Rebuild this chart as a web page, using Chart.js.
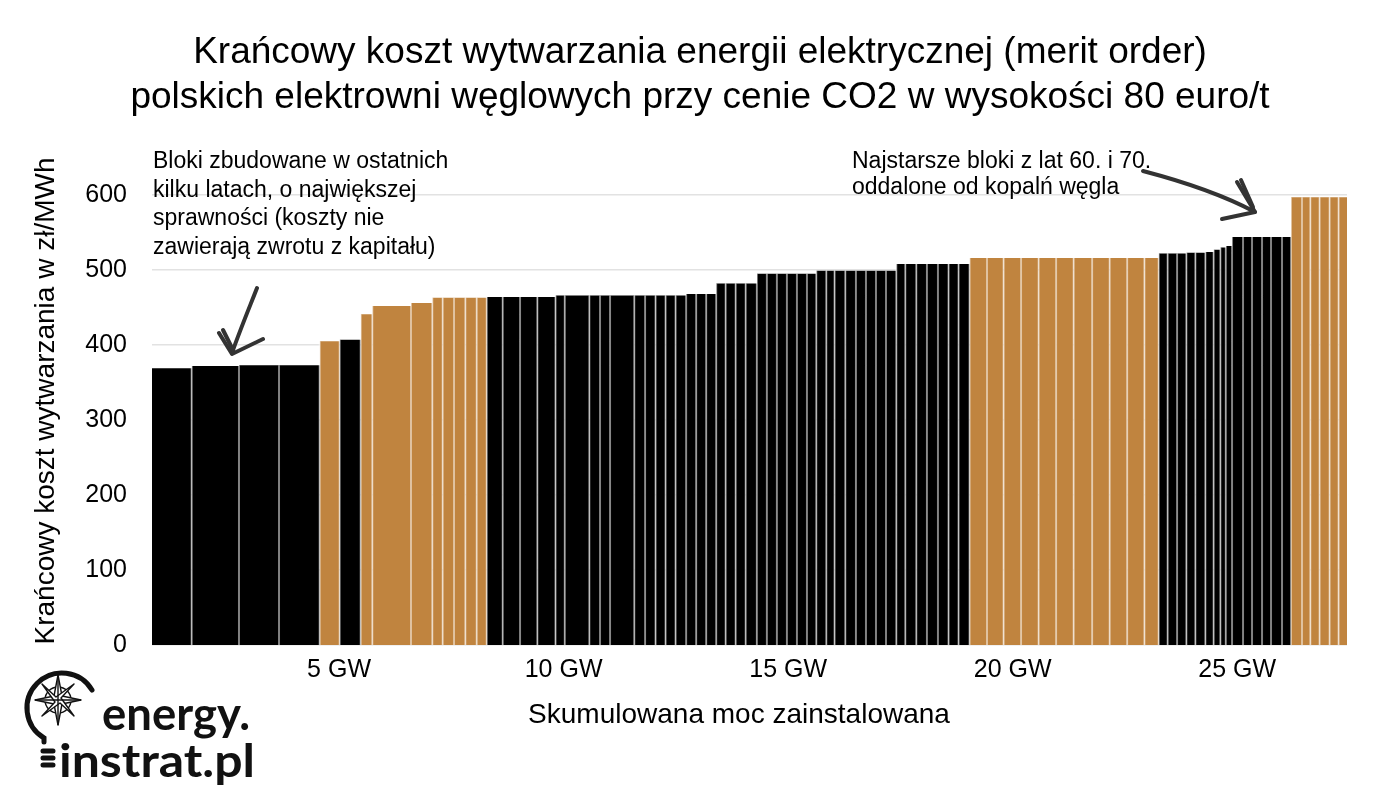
<!DOCTYPE html>
<html><head><meta charset="utf-8">
<script src="https://cdn.jsdelivr.net/npm/chart.js@4.4.1/dist/chart.umd.min.js"></script>
<style>
html,body{margin:0;padding:0;background:#fff;}
#wrap{position:relative;width:1400px;height:803px;overflow:hidden;font-family:"Liberation Sans",Arial,sans-serif;color:#000;}
#c{position:absolute;left:0;top:0;}
.note{position:absolute;font-size:23px;white-space:nowrap;}
.axt{position:absolute;font-size:28px;white-space:nowrap;transform:translate(-50%,-50%);}
svg.ov{position:absolute;left:0;top:0;pointer-events:none;}
</style></head><body>
<div id="wrap">
<canvas id="c" width="1400" height="803"></canvas>
<div class="note" style="left:153px;top:146px;line-height:28.5px">Bloki zbudowane w ostatnich<br>kilku latach, o największej<br>sprawności (koszty nie<br>zawierają zwrotu z kapitału)</div>
<div class="note" style="left:852px;top:147px;line-height:26px">Najstarsze bloki z lat 60. i 70.<br>oddalone od kopalń węgla</div>
<div class="axt" style="left:739px;top:714px">Skumulowana moc zainstalowana</div>
<div class="axt" style="left:45px;top:401px;transform:translate(-50%,-50%) rotate(-90deg)">Krańcowy koszt wytwarzania w zł/MWh</div>
<svg class="ov" width="1400" height="803" viewBox="0 0 1400 803">
 <g fill="none" stroke="#333" stroke-width="4" stroke-linecap="round" stroke-linejoin="round">
  <path d="M257,288 C250,306 240,330 232,353"/>
  <path d="M219,333 L232,354 L263,339"/>
  <path d="M223,330 L233,350"/>
  <path d="M1143,171 C1185,182 1225,196 1255,212"/>
  <path d="M1237,182 L1255,212 L1222,219"/>
  <path d="M1241,180 L1253,207"/>
 </g>
 <g fill="none" stroke="#111" stroke-width="5" stroke-linecap="round">
  <path d="M92,690 A35,35 0 1 0 44,738 L44,742"/>
  <path d="M43,751 L53,751 M43,758 L53,758 M43,765 L53,765"/>
 </g>
 <g stroke="#111" stroke-width="1.4" fill="#fff" stroke-linejoin="round">
  <circle cx="58" cy="700" r="13" fill="none"/>
  <path d="M58,675 L62,696 L81,700 L62,704 L58,725 L54,704 L35,700 L54,696 Z"/>
  <path d="M42,684 L56,697 L74,684 L61,698 L74,716 L60,703 L42,716 L55,702 Z"/>
  <path d="M58,675 L58,725 M35,700 L81,700"/>
 </g>
 <text x="102" y="730" textLength="148" lengthAdjust="spacingAndGlyphs" font-family="Lato, 'Open Sans', sans-serif" font-weight="700" font-size="46" fill="#111">energy.</text>
 <text x="59" y="777" textLength="196" lengthAdjust="spacingAndGlyphs" font-family="Lato, 'Open Sans', sans-serif" font-weight="700" font-size="46" fill="#111">instrat.pl</text>
</svg>
</div>
<script>
// Moc zainstalowana bloków (MW), w kolejności merit order
const UNIT_MW = [884,1053,891,906,445,468,258,862,474,232,252,252,254,223,
  356,385,385,405,207,546,238,223,539,241,234,223,223,234,223,223,223,
  212,223,223,249,223,223,223,223,223,207,223,185,238,238,223,223,223,229,
  200,245,238,245,236,223,245,
  388,370,388,392,388,392,410,392,388,385,318,
  200,209,207,200,223,185,149,122,138,
  245,200,223,200,245,200,
  245,185,207,223,200,187];
// Krańcowy koszt wytwarzania (zł/MWh)
const UNIT_COST = [369,372,373,373,405,407,441,452,456,463,463,463,463,463,
  464,464,464,464,466,466,466,466,466,466,466,466,466,466,468,468,468,
  482,482,482,482,495,495,495,495,495,495,499,499,499,499,499,499,499,499,
  508,508,508,508,508,508,508,
  516,516,516,516,516,516,516,516,516,516,516,
  522,522,522,523,523,524,527,530,532,
  544,544,544,544,544,544,
  597,597,597,597,597,597];
// Paliwo: K = węgiel kamienny, B = węgiel brunatny
const UNIT_FUEL = ['K','K','K','K','B','K','B','B','B','B','B','B','B','B',
  'K','K','K','K','K','K','K','K','K','K','K','K','K','K','K','K','K',
  'K','K','K','K','K','K','K','K','K','K','K','K','K','K','K','K','K','K',
  'K','K','K','K','K','K','K',
  'B','B','B','B','B','B','B','B','B','B','B',
  'K','K','K','K','K','K','K','K','K',
  'K','K','K','K','K','K',
  'B','B','B','B','B','B'];
const Y_TICKS = [0,100,200,300,400,500,600];
const X_TICKS_GW = [5,10,15,20,25];
const TITLE_LINES = ['Krańcowy koszt wytwarzania energii elektrycznej (merit order)',
  'polskich elektrowni węglowych przy cenie CO2 w wysokości 80 euro/t'];
const AXIS_START_GW = 0.835;

const FUEL_COLOR = {K:'#000000', B:'#c0843f'};
const FONT = 'Liberation Sans';

let cum = AXIS_START_GW;
const datasets = [];
const sepData = [];
UNIT_MW.forEach((mw,i)=>{
  const s = cum, e = cum + mw/1000; cum = e;
  datasets.push({data:[{x:s,y:UNIT_COST[i]},{x:e,y:UNIT_COST[i]}],
    backgroundColor:FUEL_COLOR[UNIT_FUEL[i]], fill:'origin',
    borderWidth:0, borderColor:'rgba(0,0,0,0)', pointRadius:0, order:1});
  if(i>0){ sepData.push({x:s,y:0},{x:s,y:UNIT_COST[i]},{x:s,y:null}); }
});
datasets.push({data:sepData, borderColor:'rgba(255,255,255,0.5)', borderWidth:2,
  pointRadius:0, fill:false, spanGaps:false, order:0});

new Chart(document.getElementById('c'), {
  type:'line',
  data:{datasets},
  options:{
    responsive:false, animation:false, devicePixelRatio:1,
    layout:{padding:{left:53,right:53,top:0,bottom:0}},
    elements:{line:{tension:0}},
    plugins:{
      legend:{display:false}, tooltip:{enabled:false},
      title:{display:true, text:TITLE_LINES, color:'#000',
        font:{family:FONT, size:37, weight:'normal', lineHeight:1.216},
        padding:{top:30.5, bottom:74.5}}
    },
    scales:{
      x:{type:'linear', min:AXIS_START_GW, max:cum,
        afterBuildTicks:s=>{s.ticks = X_TICKS_GW.map(v=>({value:v}));},
        afterFit:s=>{s.height = 158;},
        ticks:{callback:v=>v+' GW', color:'#000', font:{family:FONT,size:25}, padding:10, maxRotation:0, autoSkip:false},
        grid:{display:false, drawTicks:false}, border:{display:false}},
      y:{min:0, max:600,
        afterBuildTicks:s=>{s.ticks = Y_TICKS.map(v=>({value:v}));},
        afterFit:s=>{s.width = 99;},
        ticks:{color:'#000', font:{family:FONT,size:25}, padding:25},
        grid:{color:'#e2e2e2', lineWidth:1.5, drawTicks:false}, border:{display:false}}
    }
  }
});
</script>
</body></html>
